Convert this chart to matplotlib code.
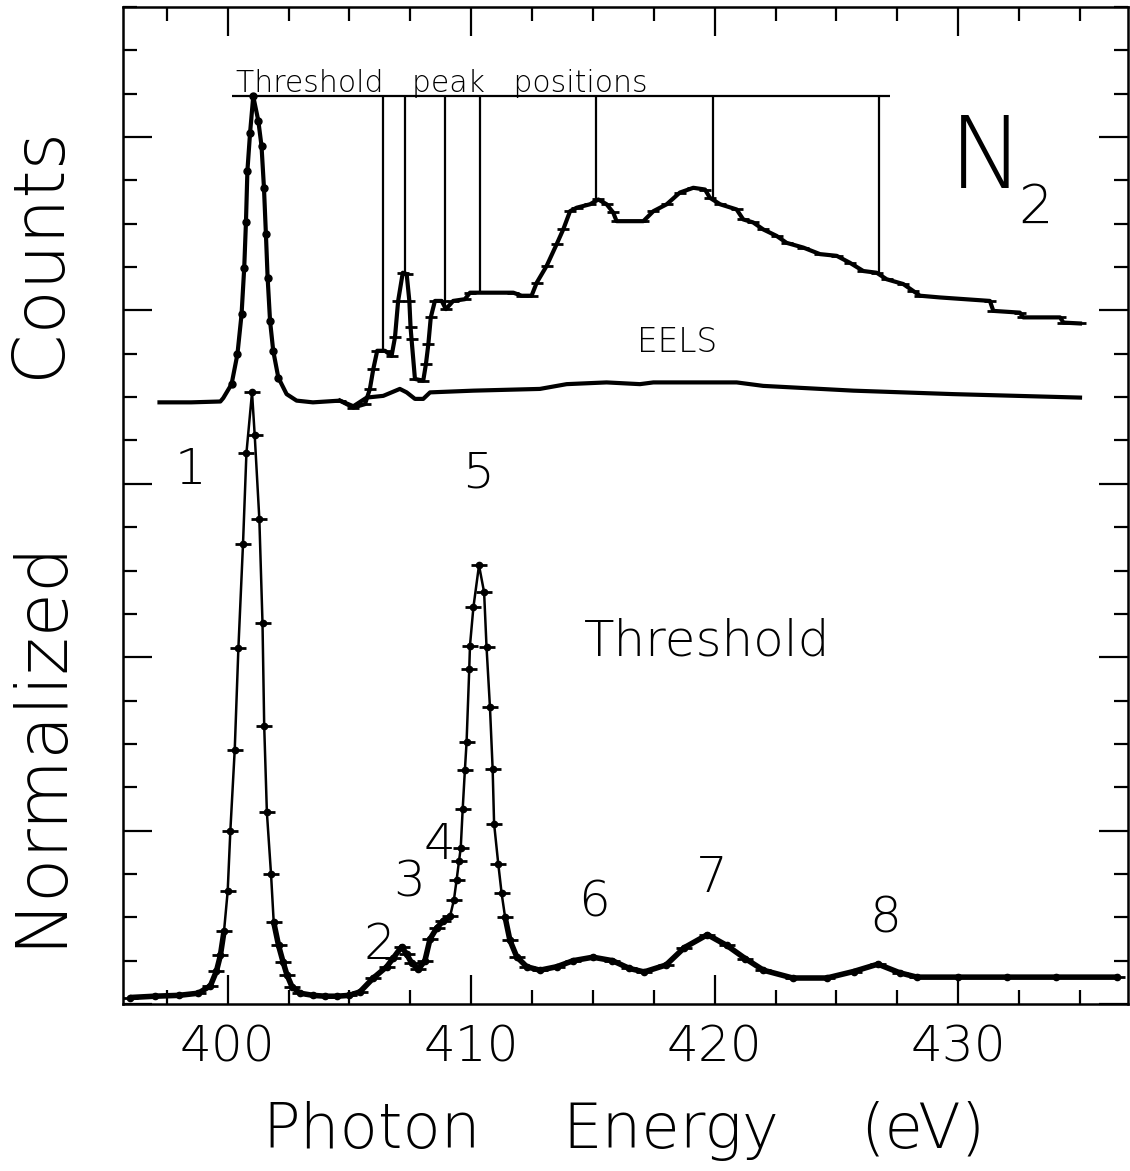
import numpy as np
import matplotlib.pyplot as plt
from matplotlib.ticker import MultipleLocator

# threshold (lower) spectrum
thr_energy = [396.0, 397.0, 398.0, 398.8, 399.29, 399.54, 399.70, 399.85, 400.00, 400.11,
              400.29, 400.44, 400.63, 400.77, 401.00, 401.11, 401.30, 401.43, 401.50, 401.61,
              401.78, 401.89, 402.09, 402.27, 402.43, 402.64, 402.97, 403.5, 404.0, 404.5,
              405.0, 405.43, 405.98, 406.53, 406.80, 407.14, 407.35, 407.55, 407.83, 408.10,
              408.31, 408.58, 408.85, 409.13, 409.29, 409.40, 409.50, 409.57, 409.65, 409.74,
              409.81, 409.92, 409.95, 410.09, 410.32, 410.53, 410.63, 410.77, 410.88, 410.94,
              411.11, 411.25, 411.39, 411.59, 411.87, 412.28, 412.82, 413.51, 414.19, 415.0,
              415.8, 416.5, 417.1, 418.0, 418.75, 419.7, 420.5, 421.25, 422.0, 423.2,
              424.6, 425.7, 426.7, 427.6, 428.3, 430.0, 432.0, 434.0, 436.5]
thr_counts = [0.15, 0.18, 0.20, 0.25, 0.42, 0.76, 1.12, 1.68, 2.60, 4.00,
              5.87, 8.21, 10.62, 12.71, 14.11, 13.12, 11.19, 8.79, 6.41, 4.42,
              3.00, 1.89, 1.35, 0.98, 0.68, 0.40, 0.25, 0.20, 0.18, 0.18,
              0.20, 0.28, 0.60, 0.86, 1.06, 1.32, 1.15, 0.95, 0.80, 1.00,
              1.50, 1.75, 1.92, 2.02, 2.40, 2.86, 3.30, 3.60, 4.49, 5.39,
              6.04, 7.73, 8.27, 9.15, 10.12, 9.50, 8.23, 6.85, 5.43, 4.16,
              3.24, 2.55, 2.01, 1.47, 1.09, 0.86, 0.78, 0.86, 1.00, 1.08,
              1.00, 0.82, 0.74, 0.90, 1.30, 1.60, 1.35, 1.05, 0.78, 0.60,
              0.60, 0.75, 0.92, 0.72, 0.62, 0.62, 0.62, 0.62, 0.62]

# EELS spectrum (offset, upper)
eels_energy = [397.2, 398.5, 399.7, 399.82, 400.16, 400.40, 400.57, 400.68, 400.75, 400.81,
               400.92, 401.05, 401.26, 401.39, 401.49, 401.57, 401.64, 401.74, 401.87, 402.08,
               402.42, 402.83, 403.5, 404.61, 405.16, 405.71, 406.39, 407.07, 407.35, 407.69,
               408.03, 408.31, 410.09, 412.82, 413.92, 415.56, 416.93, 417.48, 420.90, 421.99,
               425.69, 429.79, 435.0]
eels_counts = [13.88, 13.88, 13.90, 13.98, 14.30, 14.99, 15.91, 16.99, 18.03, 19.22,
               20.10, 20.94, 20.37, 19.79, 18.83, 17.76, 16.76, 15.76, 15.07, 14.45,
               14.07, 13.92, 13.88, 13.92, 13.79, 13.99, 14.03, 14.19, 14.11, 13.96,
               13.96, 14.11, 14.15, 14.19, 14.30, 14.34, 14.30, 14.34, 14.34, 14.26,
               14.15, 14.07, 13.99]

# magnified spectrum above 405 eV (upper)
mag_energy = [404.61, 405.16, 405.64, 405.84, 405.98, 406.14, 406.46, 406.73, 406.87, 407.00,
              407.19, 407.35, 407.46, 407.51, 407.55, 407.69, 408.03, 408.14, 408.24, 408.34,
              408.51, 408.79, 408.96, 409.26, 409.74, 409.95, 411.73, 412.07, 412.48, 412.69,
              413.10, 413.51, 413.78, 414.06, 414.33, 414.88, 415.22, 415.56, 415.83, 415.97,
              416.93, 417.07, 417.48, 418.03, 418.57, 419.12, 419.60, 419.80, 420.22, 420.90,
              421.17, 421.58, 421.99, 422.54, 422.95, 423.64, 424.32, 425.01, 425.55, 426.10,
              426.65, 427.06, 427.74, 428.15, 428.43, 429.25, 431.30, 431.44, 432.53, 432.67,
              434.18, 434.32, 435.0]
mag_counts = [13.92, 13.76, 13.84, 14.19, 14.65, 15.07, 15.07, 14.95, 15.38, 16.22,
              16.87, 16.84, 16.22, 15.61, 15.34, 14.42, 14.38, 14.76, 15.22, 15.84,
              16.22, 16.22, 16.03, 16.22, 16.26, 16.41, 16.41, 16.34, 16.34, 16.64,
              17.03, 17.53, 17.87, 18.29, 18.37, 18.45, 18.56, 18.45, 18.26, 18.06,
              18.06, 18.06, 18.29, 18.45, 18.72, 18.83, 18.79, 18.60, 18.45, 18.33,
              18.10, 18.03, 17.87, 17.72, 17.56, 17.45, 17.30, 17.26, 17.10, 16.91,
              16.87, 16.72, 16.61, 16.45, 16.34, 16.30, 16.22, 15.99, 15.95, 15.84,
              15.84, 15.72, 15.70]

# threshold peak positions (vertical markers)
peak_positions = [406.36, 407.28, 408.92, 410.36, 415.12, 419.91, 426.74]
bar_start, bar_end, bar_level = 400.19, 427.2, 20.94

peak_labels = ["1", "2", "3", "4", "5", "6", "7", "8"]
label_energy = [398.46, 406.25, 407.46, 408.68, 410.28, 415.05, 419.89, 427.0]
label_level = [11.99, 1.05, 2.47, 3.35, 11.91, 2.02, 2.59, 1.66]

thr_energy = np.array(thr_energy)
thr_counts = np.array(thr_counts)
eels_energy = np.array(eels_energy)
eels_counts = np.array(eels_counts)

plt.rcParams['font.family'] = ['DejaVu Sans']
plt.rcParams['font.weight'] = 'light'
fig = plt.figure(figsize=(11.3, 11.71), dpi=100)
ax = fig.add_axes([0.1086, 0.1426, 0.8894, 0.8514])

# threshold curve: thin line through peaks, thick band where low
ax.plot(thr_energy, thr_counts, color='black', lw=1.8)
low = np.where(thr_counts < 2.2, thr_counts, np.nan)
ax.plot(thr_energy, low, color='black', lw=4.0, solid_capstyle='butt')
ax.plot(thr_energy, thr_counts, 'o', color='black', ms=4.5)
ax.plot(thr_energy, thr_counts, '_', color='black', ms=11, mew=2)

# EELS and magnified spectra
ax.plot(eels_energy, eels_counts, color='black', lw=3.0)
pk = (eels_counts > 14.2) & (eels_energy < 403)
ax.plot(eels_energy[pk], eels_counts[pk], 'o', color='black', ms=5)
ax.plot(mag_energy, mag_counts, color='black', lw=3.0)
ax.plot(mag_energy, mag_counts, '_', color='black', ms=9, mew=2)

# threshold peak position markers
ax.hlines(bar_level, bar_start, bar_end, color='black', lw=1.6)
bottoms = np.interp(peak_positions, mag_energy, mag_counts)
ax.vlines(peak_positions, bottoms, bar_level, color='black', lw=1.6)

ax.text(bar_start + 0.15, 21.04, "Threshold   peak   positions", fontsize=21.5,
        ha='left', va='baseline')

for lab, e, v in zip(peak_labels, label_energy, label_level):
    ax.text(e, v, lab, fontsize=36, ha='center', va='baseline')

ax.text(419.70, 8.04, "Threshold", fontsize=36, ha='center', va='baseline')
ax.text(418.44, 15.05, "EELS", fontsize=23.5, ha='center', va='baseline')
ax.text(429.6, 18.83, "N", fontsize=72, ha='left', va='baseline')
ax.text(432.45, 18.03, "2", fontsize=39, ha='left', va='baseline')

ax.set_xlim(395.69, 436.96)
ax.set_ylim(0, 23)
ax.xaxis.set_major_locator(MultipleLocator(10))
ax.xaxis.set_minor_locator(MultipleLocator(2.5))
ax.yaxis.set_major_locator(MultipleLocator(4))
ax.yaxis.set_minor_locator(MultipleLocator(1))
ax.tick_params(which='both', direction='in', top=True, right=True, width=1.6)
ax.tick_params(which='major', length=21)
ax.tick_params(which='minor', length=10)
ax.tick_params(axis='x', labelsize=36, pad=14)
ax.tick_params(axis='y', labelleft=False)
for s in ax.spines.values():
    s.set_linewidth(1.8)

# axis titles
fig.text(262 / 1130, 1 - 1148 / 1171, "Photon", fontsize=45, ha='left', va='baseline')
fig.text(562 / 1130, 1 - 1148 / 1171, "Energy", fontsize=45, ha='left', va='baseline')
fig.text(860 / 1130, 1 - 1148 / 1171, "(eV)", fontsize=45, ha='left', va='baseline')
fig.text(40 / 1130, 1 - 252 / 1171, "Counts", fontsize=52, rotation=90,
         ha='center', va='center')
fig.text(40 / 1130, 1 - 742 / 1171, "Normalized", fontsize=52, rotation=90,
         ha='center', va='center')

fig.savefig("out.png", dpi=100)
